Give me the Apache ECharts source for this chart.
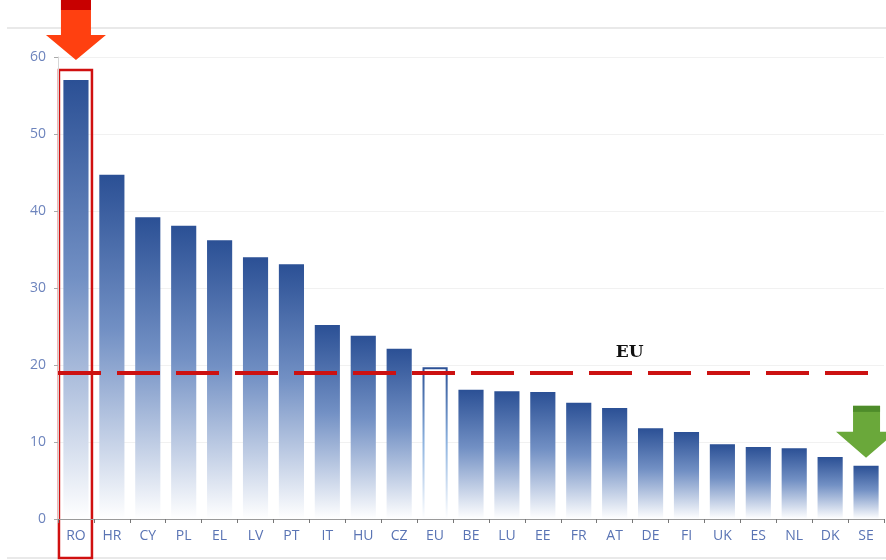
<!DOCTYPE html>
<html><head><meta charset="utf-8">
<script src="https://cdn.jsdelivr.net/npm/echarts@6/dist/echarts.min.js"></script>
<style>html,body{margin:0;padding:0;background:#fff}#c{width:886px;height:560px}</style>
</head><body><div id="c"></div>
<script>
const categories = ['RO','HR','CY','PL','EL','LV','PT','IT','HU','CZ','EU','BE','LU','EE','FR','AT','DE','FI','UK','ES','NL','DK','SE'];
const values = [57.0,44.7,39.2,38.1,36.2,34.0,33.1,25.2,23.8,22.1,19.7,16.8,16.6,16.5,15.1,14.4,11.8,11.3,9.7,9.35,9.2,8.05,6.9];
const euAverage = 19.0;
const yTicks = [0,10,20,30,40,50,60];

const chart = echarts.init(document.getElementById('c'));
const barGrad = new echarts.graphic.LinearGradient(0,0,0,1,[
  {offset:0,color:'#2b5095'},{offset:0.45,color:'#7290c4'},{offset:1,color:'#ffffff'}]);
const euBorder = new echarts.graphic.LinearGradient(0,0,0,1,[
  {offset:0,color:'#2b5095'},{offset:0.5,color:'#8fb4e0'},{offset:1,color:'#ffffff'}]);
const data = values.map((v,i)=> categories[i]==='EU'
  ? {value:v,itemStyle:{color:'#ffffff',borderColor:euBorder,borderWidth:2}}
  : v);

chart.setOption({
  animation:false,
  grid:{left:58,right:2,top:57,bottom:41},
  xAxis:{type:'category',data:categories,
    axisLine:{lineStyle:{color:'#9a9a9a'}},
    axisTick:{show:true,length:4,lineStyle:{color:'#777'}},
    axisLabel:{color:'#5a74b4',fontSize:14,fontFamily:'Open Sans',margin:10}},
  yAxis:{type:'value',min:yTicks[0],max:yTicks[yTicks.length-1],interval:10,
    axisLine:{show:true,lineStyle:{color:'#d6d6d6'}},
    axisTick:{show:true,length:4,lineStyle:{color:'#aaa'}},
    axisLabel:{color:'#6d84bd',fontSize:14,fontFamily:'Open Sans',margin:12},
    splitLine:{lineStyle:{color:'#f1f1f1'}}},
  series:[{type:'bar',data:data,barWidth:'70%',itemStyle:{color:barGrad},
    markLine:{silent:true,symbol:'none',label:{show:false},
      lineStyle:{color:'#cc1111',width:4,type:[43,16]},
      data:[{yAxis:euAverage}]}}]
});

const ro = chart.convertToPixel({xAxisIndex:0},'RO');
const se = chart.convertToPixel({xAxisIndex:0},'SE');
const roTop = chart.convertToPixel({yAxisIndex:0},58.3);
const seTop = chart.convertToPixel({yAxisIndex:0},values[values.length-1]);
const euY = chart.convertToPixel({yAxisIndex:0},euAverage);
const euX = chart.convertToPixel({xAxisIndex:0},'FR');

chart.setOption({graphic:[
  {type:'line',shape:{x1:7,y1:28,x2:886,y2:28},style:{stroke:'#e2e2e2',lineWidth:1.5}},
  {type:'line',shape:{x1:7,y1:558,x2:886,y2:558},style:{stroke:'#e2e2e2',lineWidth:1.5}},
  {type:'rect',shape:{x:ro-17,y:roTop,width:33,height:558-roTop},style:{fill:'none',stroke:'#d01010',lineWidth:2.5}},
  {type:'polygon',shape:{points:[[ro-15,0],[ro+15,0],[ro+15,35],[ro+30,35],[ro,60],[ro-30,35],[ro-15,35]]},style:{fill:'#ff4010'}},
  {type:'rect',shape:{x:ro-15,y:0,width:30,height:10},style:{fill:'#c80000'}},
  {type:'polygon',shape:{points:[[se-13,seTop-60],[se+14,seTop-60],[se+14,seTop-34],[se+30,seTop-34],[se,seTop-8],[se-30,seTop-34],[se-13,seTop-34]]},style:{fill:'#6aa83a'}},
  {type:'rect',shape:{x:se-13,y:seTop-60,width:27,height:6},style:{fill:'#4e8c2a'}},
  {type:'text',x:euX+37,y:euY-29,style:{text:'EU',fill:'#111',font:'bold 17px "DejaVu Serif", serif'}}
]});
</script></body></html>
